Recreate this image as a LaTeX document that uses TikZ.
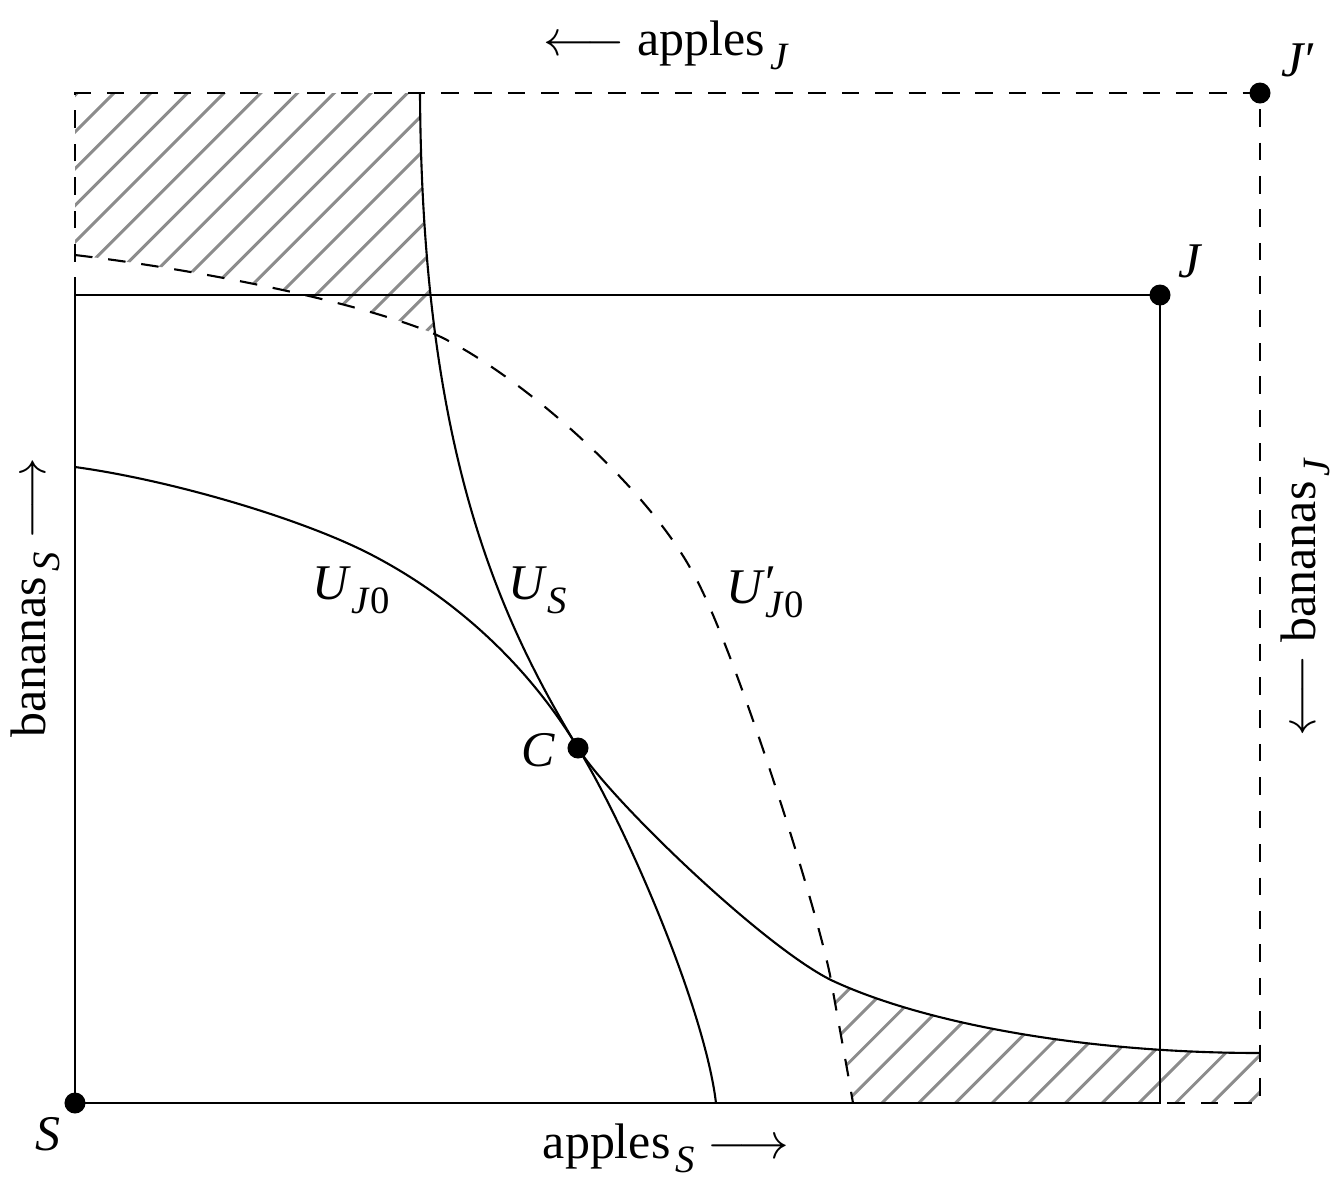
\documentclass[tikz,border=0pt]{standalone}
\usepackage{fontspec}
\setmainfont{Liberation Serif}
\usepackage{graphicx}

% lowered subscript in text italic
\newcommand{\lsub}[1]{\raisebox{-0.6ex}{\fontsize{11}{13}\selectfont #1}}

% the three indifference curves (picture pixels, y downwards)
\newcommand{\curveJ}{.. controls (170,480) and (300,518) .. (370,554)
  .. controls (440,590) and (520,652) .. (578,748)
  .. controls (608,797) and (761,945) .. (831,980)
  .. controls (920,1022) and (1080,1053) .. (1260,1053)}
\newcommand{\curveS}{.. controls (422,450) and (498,616) .. (578,748)
  .. controls (628,830) and (705,1010) .. (716,1103)}
\newcommand{\curveJp}{.. controls (200,270) and (350,300) .. (430,332)
  .. controls (510,366) and (645,483) .. (693,573)
  .. controls (733,643) and (818,910) .. (831,980)
  .. controls (838,1020) and (846,1062) .. (853,1103)}

\begin{document}
\begin{tikzpicture}[x=0.01cm, y=-0.01cm,
  every node/.style={font=\fontsize{14.2}{17}\selectfont},
  dot/.style={circle, fill=black, inner sep=0pt, minimum size=0.21cm},
  edge/.style={line width=0.6pt},
  dashline/.style={line width=0.6pt, dash pattern=on 5pt off 4.5pt},
  hatch/.style={line width=0.85pt, black!45},
]
  \useasboundingbox (0,0) rectangle (1344,1202);

  % hatched areas
  \begin{scope}
    \clip (75,93) rectangle (1260,1103);
    \clip (0,0) -- (423,0) -- (420,93) \curveS -- (0,1202) -- cycle;
    \clip (0,0) -- (0,255) -- (75,255) \curveJp -- (853,1202) -- (1344,1202) -- (1344,0) -- cycle;
    \foreach \k in {-2,...,18}
      \draw[hatch] ({207+36.7*\k-1110},1110) -- ({207+36.7*\k-90},90);
  \end{scope}
  \begin{scope}
    \clip (75,93) rectangle (1260,1103);
    \clip (0,0) -- (0,255) -- (75,255) \curveJp -- (853,1202) -- (1344,1202) -- (1344,0) -- cycle;
    \clip (0,467) -- (75,467) \curveJ -- (1344,1053) -- (1344,1202) -- (0,1202) -- cycle;
    \foreach \k in {-6,...,11}
      \draw[hatch] ({1985+36.7*\k-1110},1110) -- ({1985+36.7*\k-90},90);
  \end{scope}

  \node[dot] (S) at (75,1103) {};
  \node[dot] (J) at (1160,295) {};
  \node[dot] (Jp) at (1260,93) {};
  \node[dot] (C) at (578,748) {};

  % boxes
  \draw[edge] (S.center) rectangle (J.center);
  \draw[dashline] (S.center |- J.center) -- (S.center |- Jp.center) -- (Jp.center)
    -- (Jp.center |- S.center) -- (J.center |- S.center);

  % curves
  \draw[edge] (75,467) \curveJ;
  \draw[edge] (420,93) \curveS;
  \draw[dashline] (75,255) \curveJp;

  % labels
  \node (lS) at (48,1134) {\textit{S}};
  \node (lJ) at (1191,261) {\textit{J}};
  \node (lJp) at (1299,60) {\textit{J}′};
  \node (lC) at (538,750) {\textit{C}};
  \node (lUJ) at (351,590) {\textit{U}\lsub{\textit{J}0}};
  \node (lUS) at (538,590) {\textit{U}\lsub{\textit{S}}};
  \node (lUJp) at (765,592) {\textit{U}\rlap{\raisebox{0.2ex}{′}}\lsub{\textit{J}0}};
  \node (applesJ) at (666,45) {$\longleftarrow$\ apples\hspace{1.5pt}\lsub{\textit{J}}};
  \node (applesS) at (666,1148) {apples\hspace{1.5pt}\lsub{\textit{S}}\ $\longrightarrow$};
  \node[rotate=90] (bananasS) at (35,598) {bananas\hspace{1.5pt}\lsub{\textit{S}}\ $\longrightarrow$};
  \node[rotate=90] (bananasJ) at (1305,597) {$\longleftarrow$\ bananas\hspace{1.5pt}\lsub{\textit{J}}};
\end{tikzpicture}
\end{document}
